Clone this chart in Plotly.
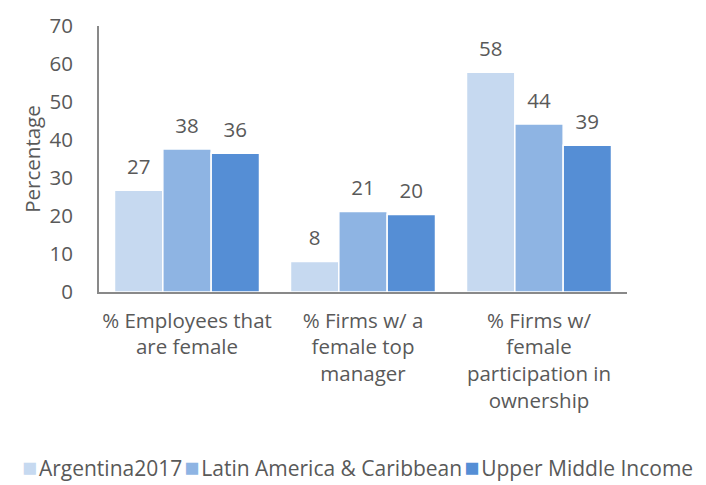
import plotly.graph_objects as go

categories = ["% Employees that<br>are female", "% Firms w/ a<br>female top<br>manager",
              "% Firms w/<br>female<br>participation in<br>ownership"]
argentina = [26.8, 8.0, 57.8]
lac = [37.6, 21.2, 44.2]
umi = [36.5, 20.4, 38.6]
series_names = ["Argentina2017", "Latin America & Caribbean", "Upper Middle Income"]
colors = ["#C6D9F0", "#8EB4E3", "#558ED5"]

font_family = "'Open Sans', Lato, sans-serif"
gray = "#595959"
fs = 20.5

fig = go.Figure()
for i, (name, vals, col) in enumerate(zip(series_names, [argentina, lac, umi], colors)):
    fig.add_trace(go.Bar(
        x=categories, y=vals, name=name,
        marker=dict(color=col, line=dict(color="white", width=1.5)),
        offsetgroup=str(i), showlegend=False,
    ))
for i, (name, vals) in enumerate(zip(series_names, [argentina, lac, umi])):
    fig.add_trace(go.Scatter(
        x=categories, y=vals, mode="markers+text", name=name,
        marker=dict(size=16, opacity=0),
        text=[f"{v:.0f}" for v in vals], textposition="top center",
        textfont=dict(family=font_family, size=fs, color=gray),
        offsetgroup=str(i), showlegend=False, cliponaxis=False, hoverinfo="skip",
    ))

legend_text = "<span style='font-size:8px'> </span>".join(
    f"<span style='color:{c}; font-size:25px'>■</span><span style='font-size:7px'> </span>{n}"
    for n, c in zip(series_names, colors)
)
fig.add_annotation(text=legend_text, xref="paper", yref="paper", x=0.49, y=-0.655,
                   xanchor="center", yanchor="middle", showarrow=False,
                   font=dict(family=font_family, size=21, color=gray))

fig.update_layout(
    width=698, height=477,
    margin=dict(l=91, r=79, t=18, b=193, autoexpand=False),
    paper_bgcolor="white", plot_bgcolor="white",
    barmode="group", bargap=0.176, bargroupgap=0,
    scattermode="group", scattergap=0.176,
    font=dict(family=font_family, size=fs, color=gray),
    showlegend=False,
    xaxis=dict(showline=True, linecolor="#898989", linewidth=2, ticks="",
               tickfont=dict(size=fs, color=gray), showgrid=False, automargin=False,
               ticklabelstandoff=9),
    yaxis=dict(range=[0, 70], dtick=10, showline=True, linecolor="#898989", linewidth=2,
               showgrid=False, zeroline=False, ticks="", automargin=False,
               tickfont=dict(size=fs, color=gray), ticklabelstandoff=20,
               title=dict(text="Percentage", font=dict(size=fs, color=gray), standoff=3)),
)

fig.write_html("out.html")
